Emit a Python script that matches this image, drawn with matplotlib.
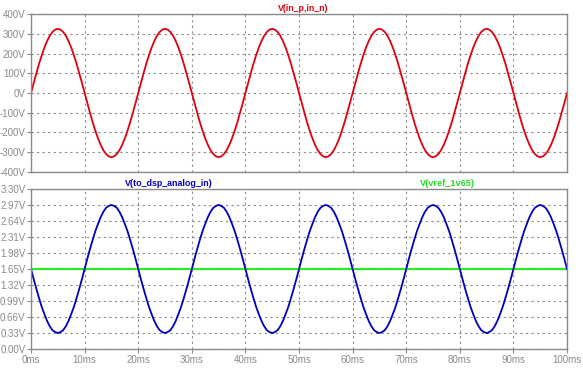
import matplotlib
matplotlib.use("Agg")
import matplotlib.pyplot as plt

plt.rcParams['font.family'] = ['Liberation Sans', 'DejaVu Sans']

# time axis, ms (samples every 0.5 ms)
time_ms = [i * 0.5 for i in range(0, 201)]

# V(in_p,in_n), volts, read every 0.5 ms over one 20 ms cycle
one_cycle_in = [0, 51, 100, 148, 191, 230, 263, 290, 309, 321,
                325, 321, 309, 290, 263, 230, 191, 148, 100, 51,
                0, -51, -100, -148, -191, -230, -263, -290, -309, -321,
                -325, -321, -309, -290, -263, -230, -191, -148, -100, -51]
v_in = one_cycle_in * 5 + [0]

# V(to_dsp_analog_in), volts, read every 0.5 ms over one 20 ms cycle
one_cycle_dsp = [1.65, 1.44, 1.24, 1.05, 0.87, 0.72, 0.58, 0.47, 0.39, 0.35,
                 0.33, 0.35, 0.39, 0.47, 0.58, 0.72, 0.87, 1.05, 1.24, 1.44,
                 1.65, 1.86, 2.06, 2.25, 2.43, 2.58, 2.72, 2.83, 2.91, 2.95,
                 2.97, 2.95, 2.91, 2.83, 2.72, 2.58, 2.43, 2.25, 2.06, 1.86]
v_dsp = one_cycle_dsp * 5 + [1.65]

# V(vref_1v65)
vref_t = [0, 100]
vref_v = [1.65, 1.65]

top_ticks = [-400, -300, -200, -100, 0, 100, 200, 300, 400]
bot_ticks = [0.00, 0.33, 0.66, 0.99, 1.32, 1.65, 1.98, 2.31, 2.64, 2.97, 3.30]
x_ticks = list(range(0, 101, 10))

GRAY = "#8a8a8a"

fig = plt.figure(figsize=(5.83, 3.69), dpi=100)
ax1 = fig.add_axes([0.0532, 0.534, 0.9194, 0.428])
ax2 = fig.add_axes([0.0532, 0.054, 0.9194, 0.434])


def style(ax):
    for s in ax.spines.values():
        s.set_color(GRAY)
        s.set_linewidth(1.0)
    ax.grid(True, color=GRAY, linestyle=(0, (2, 3)), linewidth=0.8)
    ax.tick_params(axis='both', colors=GRAY, labelsize=7, length=3, width=0.8, pad=1)
    ax.set_xlim(0, 100)
    ax.set_xticks(x_ticks)


style(ax1)
ax1.plot(time_ms, v_in, color="#e00010", linewidth=1.3)
ax1.set_ylim(-400, 400)
ax1.set_yticks(top_ticks)
ax1.set_yticklabels([f"{v}V" for v in top_ticks])
ax1.tick_params(axis='x', length=0, labelbottom=False)
ax1.text(0.507, 1.008, "V(in_p,in_n)", transform=ax1.transAxes, ha="center", va="bottom",
         color="#e00010", fontsize=6.3, fontweight="bold")

style(ax2)
ax2.plot(vref_t, vref_v, color="#22ee22", linewidth=1.5)
ax2.plot(time_ms, v_dsp, color="#0000c0", linewidth=1.3)
ax2.set_ylim(0, 3.30)
ax2.set_yticks(bot_ticks)
ax2.set_yticklabels([f"{v:.2f}V" for v in bot_ticks])
ax2.set_xticklabels([f"{t}ms" for t in x_ticks])
ax2.text(0.257, 1.008, "V(to_dsp_analog_in)", transform=ax2.transAxes, ha="center", va="bottom",
         color="#0000c0", fontsize=6.4, fontweight="bold")
ax2.text(0.776, 1.008, "V(vref_1v65)", transform=ax2.transAxes, ha="center", va="bottom",
         color="#22dd22", fontsize=6.6, fontweight="bold")

fig.savefig("out.png", dpi=100)
